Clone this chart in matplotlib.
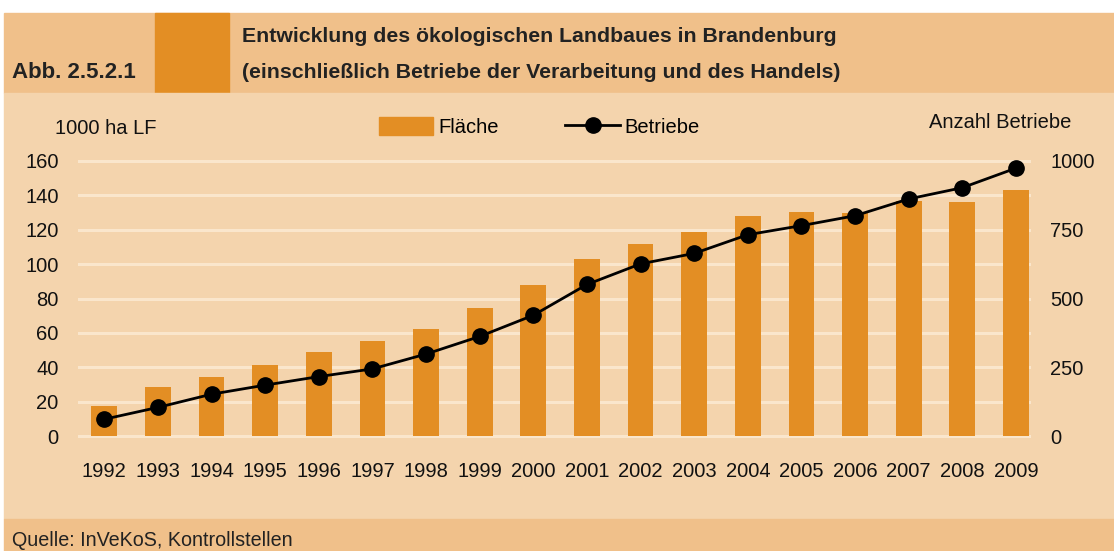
import numpy as np
import matplotlib.pyplot as plt
from matplotlib.patches import Rectangle
from matplotlib.lines import Line2D

plt.rcParams['font.family'] = ['Liberation Sans', 'DejaVu Sans']

years = [str(y) for y in range(1992, 2010)]
flaeche = [17.5, 28.8, 34.3, 41.3, 48.9, 55.5, 62.2, 74.3, 88.1,
           102.9, 111.9, 118.5, 128.0, 130.6, 129.6, 137.0, 136.0, 143.0]
betriebe = [61, 104, 152, 185, 216, 244, 298, 362, 439,
            551, 626, 664, 732, 765, 801, 862, 903, 974]

W, H = 1114, 551
header_bg = '#F0C08A'
plot_bg = '#F4D4AD'
orange = '#E38E24'
grid_c = '#FAE6CC'
txt = '#111111'
fs = 14.5

fig = plt.figure(figsize=(W / 100, H / 100), dpi=100)
fig.patch.set_facecolor('white')


def box(x0, y0, x1, y1, color):
    # pixel coords from top-left
    fig.patches.append(Rectangle((x0 / W, 1 - y1 / H), (x1 - x0) / W, (y1 - y0) / H,
                                 transform=fig.transFigure, color=color, zorder=-5))


box(4, 13, W, 93, header_bg)
box(155, 13, 229, 93, orange)
box(4, 93, W, 519, plot_bg)
box(4, 519, W, H, header_bg)

fig.text(242 / W, 1 - 37 / H, 'Entwicklung des ökologischen Landbaues in Brandenburg',
         fontsize=15.3, fontweight='bold', color='#222222', va='center', ha='left')
fig.text(242 / W, 1 - 72 / H, '(einschließlich Betriebe der Verarbeitung und des Handels)',
         fontsize=15.3, fontweight='bold', color='#222222', va='center', ha='left')
fig.text(12 / W, 1 - 73 / H, 'Abb. 2.5.2.1', fontsize=16, fontweight='bold',
         color='#222222', va='center', ha='left')
fig.text(12 / W, 1 - 541 / H, 'Quelle: InVeKoS, Kontrollstellen', fontsize=14.2,
         color='#222222', va='center', ha='left')

# axes: value 0 at y=436 px, 160 at y=161 px
top_px, bot_px = 152, 440
ppu = (436 - 161) / 160
ax = fig.add_axes([78 / W, 1 - bot_px / H, (1031 - 78) / W, (bot_px - top_px) / H])
ax.set_facecolor('none')
x = np.arange(len(years))
ax.bar(x, flaeche, width=0.48, color=orange, zorder=2)
ax.set_ylim(-(bot_px - 436) / ppu, 160 + (161 - top_px) / ppu)
ax.set_xlim(-0.49, 17.28)
ax.set_yticks(range(0, 161, 20))
ax.set_xticks(x)
ax.set_xticklabels(years)
ax.tick_params(axis='y', length=0, pad=14, labelsize=fs, colors=txt)
ax.tick_params(axis='x', length=0, pad=16, labelsize=fs, colors=txt)
for s in ax.spines.values():
    s.set_visible(False)
for v in range(0, 161, 20):
    ax.axhline(v, color=grid_c, lw=2.2, zorder=1)

ax2 = ax.twinx()
ax2.plot(x, betriebe, color='black', lw=2, marker='o', markersize=11, zorder=3)
lo, hi = ax.get_ylim()
ax2.set_ylim(lo * 6.25, hi * 6.25)
ax2.set_yticks([0, 250, 500, 750, 1000])
ax2.tick_params(axis='y', length=0, pad=14, labelsize=fs, colors=txt)
for s in ax2.spines.values():
    s.set_visible(False)

fig.text(55 / W, 1 - 128 / H, '1000 ha LF', fontsize=fs, color=txt, va='center', ha='left')
fig.text(1071 / W, 1 - 123 / H, 'Anzahl Betriebe', fontsize=fs, color=txt, va='center', ha='right')

handles = [Rectangle((0, 0), 1, 1, color=orange),
           Line2D([], [], color='black', lw=2, marker='o', markersize=11)]
fig.legend(handles, ['Fläche', 'Betriebe'], loc='center left', bbox_to_anchor=(369 / W, 1 - 127 / H),
           ncol=2, frameon=False, fontsize=fs, handlelength=2.7, handleheight=1.0,
           handletextpad=0.25, columnspacing=3.3, borderpad=0)

fig.savefig('out.png', dpi=100)
